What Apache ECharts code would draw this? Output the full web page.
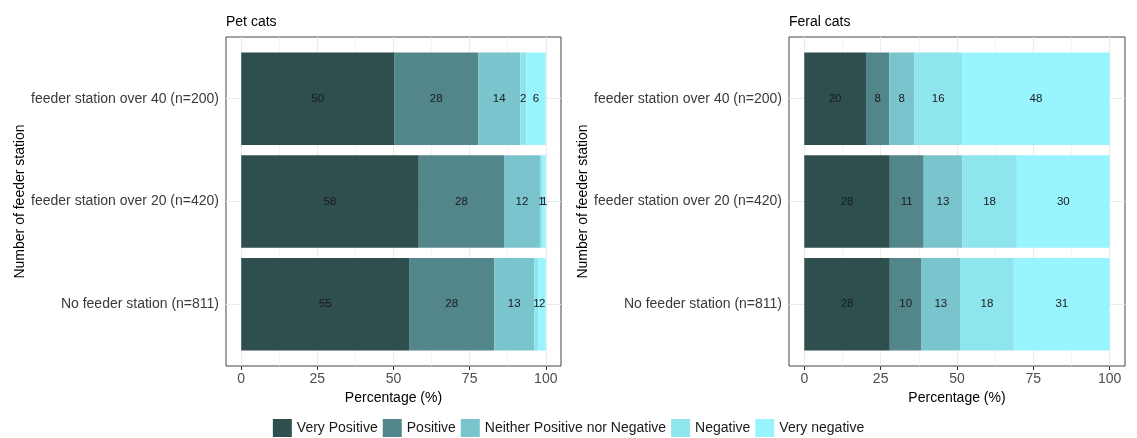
<!DOCTYPE html>
<html>
<head>
<meta charset="utf-8">
<script src="https://cdn.jsdelivr.net/npm/echarts@6/dist/echarts.min.js"></script>
<style>html,body{margin:0;padding:0;background:#fff;}#c{width:1137px;height:438px;}</style>
</head>
<body>
<div id="c"></div>
<script>
// Categories listed bottom -> top
const categories = ['No feeder station (n=811)', 'feeder station over 20 (n=420)', 'feeder station over 40 (n=200)'];
const levels = ['Very Positive', 'Positive', 'Neither Positive nor Negative', 'Negative', 'Very negative'];
const colors = ['#2F4F4F', '#53868B', '#7AC5CD', '#8EE5EE', '#98F5FF'];
const panelTitles = ['Pet cats', 'Feral cats'];
const xTicks = [0, 25, 50, 75, 100];
const xMinorTicks = [12.5, 37.5, 62.5, 87.5];
const yTicks = [1, 2, 3];

// Pet cats (%), per level, bottom -> top category
const petVeryPositive = [55.1, 58.3, 50.2];
const petPositive     = [28.0, 28.0, 27.6];
const petNeither      = [13.1, 11.8, 13.8];
const petNegative     = [1.4, 0.9, 2.0];
const petVeryNegative = [2.4, 1.0, 6.4];

// Feral cats (%)
const feralVeryPositive = [28.0, 28.0, 20.2];
const feralPositive     = [10.4, 11.1, 7.6];
const feralNeither      = [12.6, 12.6, 8.2];
const feralNegative     = [17.6, 17.9, 15.7];
const feralVeryNegative = [31.4, 30.4, 48.3];

const petData = [petVeryPositive, petPositive, petNeither, petNegative, petVeryNegative];
const feralData = [feralVeryPositive, feralPositive, feralNeither, feralNegative, feralVeryNegative];

const FONT = "'Liberation Sans', Arial, sans-serif";
const chart = echarts.init(document.getElementById('c'), null, {renderer: 'canvas'});

// frame grids (panel border) and data grids (bar area, ggplot expansion)
const frames = [
  {left: 226, top: 37, width: 335, height: 329},
  {left: 789, top: 37, width: 336, height: 329}
];
function dataRect(f) {
  const ux = f.width / 110, uy = f.height / 3.2;
  return {left: f.left + 5 * ux, top: f.top + 0.1 * uy, width: 100 * ux, height: 3 * uy, ox: 5 * ux, oy: 0.1 * uy};
}
const dataRects = frames.map(dataRect);

const grids = [], xAxes = [], yAxes = [], series = [], titles = [];
frames.forEach((f, p) => {
  // frame grid index 2p, data grid index 2p+1
  grids.push({left: f.left, top: f.top, width: f.width, height: f.height, show: true,
    borderColor: '#444444', borderWidth: 1, backgroundColor: '#ffffff', containLabel: false});
  const d = dataRects[p];
  grids.push({left: d.left, top: d.top, width: d.width, height: d.height, containLabel: false});
  xAxes.push({type: 'value', gridIndex: 2 * p, min: -5, max: 105, show: false});
  yAxes.push({type: 'value', gridIndex: 2 * p, min: 0.4, max: 3.6, show: false});
  xAxes.push({
    type: 'value', gridIndex: 2 * p + 1, min: 0, max: 100, interval: 25, offset: d.oy,
    axisLine: {show: false}, splitLine: {show: false},
    axisTick: {show: true, length: 4, lineStyle: {color: '#333333', width: 1}},
    axisLabel: {fontSize: 14, color: '#4D4D4D', fontFamily: FONT, margin: 6},
    name: 'Percentage (%)', nameLocation: 'middle', nameGap: 24,
    nameTextStyle: {fontSize: 14, color: '#000', fontFamily: FONT}
  });
  yAxes.push({
    type: 'category', gridIndex: 2 * p + 1, data: categories, offset: d.ox,
    axisLine: {show: false}, splitLine: {show: false},
    axisTick: {show: true, alignWithLabel: true, length: 4, lineStyle: {color: '#333333', width: 1}},
    axisLabel: {fontSize: 14, color: '#3A3A3A', fontFamily: FONT, margin: 7},
    name: 'Number of feeder station', nameLocation: 'middle', nameGap: 200 - d.ox,
    nameTextStyle: {fontSize: 14, color: '#000', fontFamily: FONT}
  });
  // gridlines in frame
  series.push({
    type: 'line', xAxisIndex: 2 * p, yAxisIndex: 2 * p, data: [[0, 0.4]], showSymbol: false,
    lineStyle: {opacity: 0}, silent: true, z: 1, animation: false,
    markLine: {
      silent: true, symbol: 'none', animation: false, label: {show: false}, z: 1,
      data: [
        ...xMinorTicks.map(v => ({xAxis: v, lineStyle: {color: '#EBEBEB', width: 0.6, type: 'solid'}})),
        ...xTicks.map(v => ({xAxis: v, lineStyle: {color: '#EBEBEB', width: 1.1, type: 'solid'}})),
        ...yTicks.map(v => ({yAxis: v, lineStyle: {color: '#EBEBEB', width: 1.1, type: 'solid'}}))
      ]
    }
  });
  const src = p === 0 ? petData : feralData;
  levels.forEach((lv, i) => {
    series.push({
      type: 'bar', name: lv, stack: 'panel' + p, xAxisIndex: 2 * p + 1, yAxisIndex: 2 * p + 1,
      data: src[i], barCategoryGap: '10%', z: 3, animation: false,
      itemStyle: {color: colors[i]},
      label: {show: true, position: 'inside', fontSize: 11.5, color: '#1A1A1A', fontFamily: FONT,
        formatter: params => String(Math.round(params.value))}
    });
  });
  titles.push({text: panelTitles[p], left: f.left, top: 15, padding: 0,
    textStyle: {fontSize: 14, fontWeight: 'normal', color: '#000', fontFamily: FONT}});
});

chart.setOption({
  animation: false,
  title: titles,
  grid: grids,
  xAxis: xAxes,
  yAxis: yAxes,
  series: series,
  legend: {
    data: levels, left: 'center', top: 419, padding: 0, icon: 'rect', itemWidth: 19, itemHeight: 18, itemGap: 5,
    textStyle: {fontSize: 14, color: '#1A1A1A', fontFamily: FONT}, selectedMode: false
  }
});
</script>
</body>
</html>
